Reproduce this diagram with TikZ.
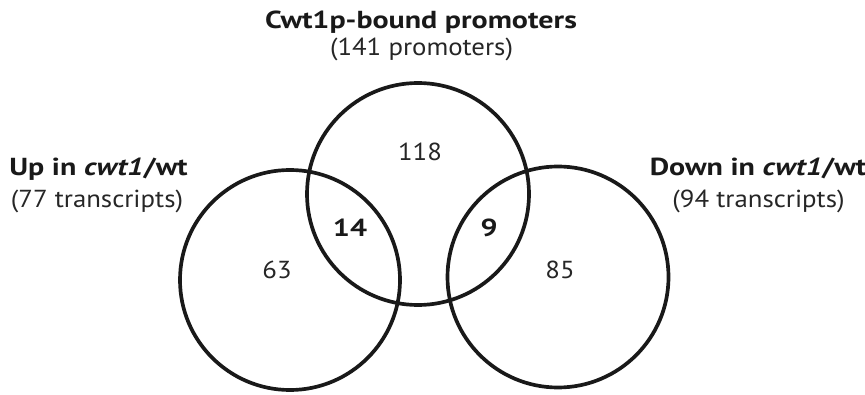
\documentclass[tikz,border=0pt]{standalone}
\usepackage{fontspec}
\setmainfont[FakeStretch=1.09,
  BoldFeatures={FakeStretch=1.22},
  BoldItalicFeatures={FakeStretch=1.22}]{PT Sans}
\begin{document}
\begin{tikzpicture}[scale=1,
    setline/.style={line width=2.1pt, black!90},
    count/.style={font=\fontsize{14}{16}\selectfont, text=black!85},
    boldcount/.style={font=\fontsize{14}{16}\selectfont\bfseries, text=black!90},
    settitle/.style={anchor=base, font=\fontsize{14}{16}\selectfont\bfseries, text=black!90},
    setsize/.style={anchor=base, font=\fontsize{14}{16}\selectfont, text=black!85}]
  \useasboundingbox (0,0) rectangle (17.30,7.88);

  % Coordinates
  \coordinate (U) at (5.80, 2.28);
  \coordinate (B) at (8.36, 4.00);
  \coordinate (D) at (11.16, 2.34);

  % Circles
  \draw[setline] (U) circle (2.20);
  \draw[setline] (B) circle (2.22);
  \draw[setline] (D) circle (2.21);

  % Set labels
  \node[settitle] (btitle) at (8.42, 7.30) {Cwt1p-bound promoters};
  \node[setsize] (bsize) at (8.43, 6.76) {(141 promoters)};
  \node[settitle] (utitle) at (1.97, 4.36) {Up in \textit{cwt1}/wt};
  \node[setsize] (usize) at (1.94, 3.72) {(77 transcripts)};
  \node[settitle] (dtitle) at (15.16, 4.36) {Down in \textit{cwt1}/wt};
  \node[setsize] (dsize) at (15.17, 3.72) {(94 transcripts)};

  % Counts
  \node[count] (nb) at (8.40, 4.84) {118};
  \node[boldcount] (nub) at (7.00, 3.32) {14};
  \node[boldcount] (nbd) at (9.78, 3.32) {9};
  \node[count] (nu) at (5.54, 2.48) {63};
  \node[count] (nd) at (11.20, 2.48) {85};
\end{tikzpicture}
\end{document}
